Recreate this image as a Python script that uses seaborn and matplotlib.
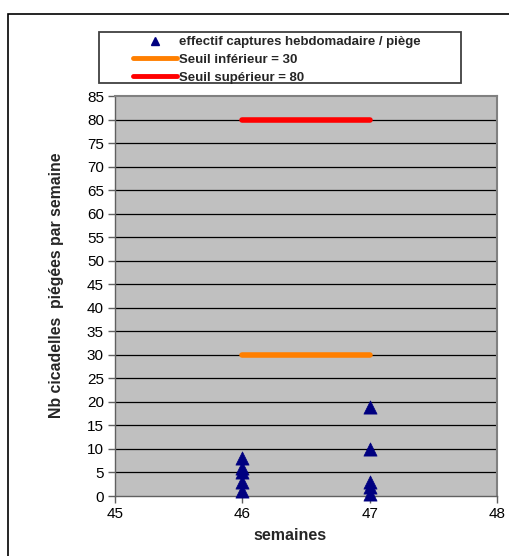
import numpy as np
import pandas as pd
import seaborn as sns
import matplotlib.pyplot as plt
from matplotlib.patches import Rectangle
from matplotlib.lines import Line2D

# weekly catches per trap
weeks = [46, 46, 46, 46, 46, 47, 47, 47, 47, 47]
captures = [8, 6, 5, 3, 1, 19, 10, 3, 2, 0.5]

# thresholds
seuil_x = [46, 47]
seuil_inf = [30, 30]
seuil_sup = [80, 80]

y_ticks = list(range(0, 90, 5))
x_ticks = [45, 46, 47, 48]

sns.set_theme(style="white")
plt.rcParams['font.family'] = ['Liberation Sans', 'DejaVu Sans']

W, H = 510, 556
fig = plt.figure(figsize=(W / 100, H / 100), dpi=100)
ax = fig.add_axes([115 / W, 60 / H, 382 / W, 400 / H])
ax.set_facecolor('#C0C0C0')

# outer frame (cropped on the right and bottom)
fig.patches.append(Rectangle((8 / W, -0.1), 1.2, 1 - 14 / H + 0.1,
                             transform=fig.transFigure, fill=False,
                             edgecolor='black', linewidth=1.2))

for yv in y_ticks[1:-1]:
    ax.axhline(yv, color='black', linewidth=0.9, zorder=1)

df_sup = pd.DataFrame({'x': seuil_x, 'y': seuil_sup})
df_inf = pd.DataFrame({'x': seuil_x, 'y': seuil_inf})
sns.lineplot(data=df_sup, x='x', y='y', ax=ax, color='#FF0000', linewidth=4, zorder=3)
sns.lineplot(data=df_inf, x='x', y='y', ax=ax, color='#FF7F00', linewidth=4, zorder=3)

df = pd.DataFrame({'semaine': weeks, 'captures': captures})
sns.scatterplot(data=df, x='semaine', y='captures', ax=ax, marker='^', s=90,
                color='#000080', edgecolor='#000080', linewidth=0.5, zorder=4,
                clip_on=False)

ax.set_xlim(45, 48)
ax.set_ylim(0, 85)
ax.set_xticks(x_ticks)
ax.set_yticks(y_ticks)
ax.tick_params(axis='both', which='both', direction='out', length=5, width=1,
               color='#606060', labelsize=11, labelcolor='black', pad=3,
               left=True, bottom=True)
for side in ['left', 'bottom']:
    ax.spines[side].set_color('#606060')
    ax.spines[side].set_linewidth(1)
for side in ['top', 'right']:
    ax.spines[side].set_color('#808080')
    ax.spines[side].set_linewidth(1.5)

ax.set_xlabel('')
ax.set_ylabel('')
fig.text(290 / W, 1 - 535 / H, 'semaines', fontsize=11.5, fontweight='bold',
         ha='center', va='center')
fig.text(57 / W, 1 - 285 / H, 'Nb cicadelles  piégées par semaine', fontsize=11.4,
         fontweight='bold', ha='center', va='center', rotation=90)

# legend frame
fig.patches.append(Rectangle((99 / W, 1 - 83 / H), 362 / W, 51 / H,
                             transform=fig.transFigure, fill=False,
                             edgecolor='#404040', linewidth=1.3))

handles = [
    Line2D([], [], linestyle='none', marker='^', color='#000080', markersize=6),
    Line2D([], [], color='#FF7F00', linewidth=3.5),
    Line2D([], [], color='#FF0000', linewidth=3.5),
]
labels = ['effectif captures hebdomadaire / piège', 'Seuil inférieur = 30',
          'Seuil supérieur = 80']
leg = fig.legend(handles, labels, loc='upper left',
                 bbox_to_anchor=(133 / W, 1 - 36 / H), ncol=1,
                 prop={'size': 9.5, 'weight': 'bold'}, frameon=False,
                 borderpad=0, handlelength=3.3, handletextpad=0.2,
                 labelspacing=0.42, borderaxespad=0)

fig.savefig('out.png', dpi=100)
